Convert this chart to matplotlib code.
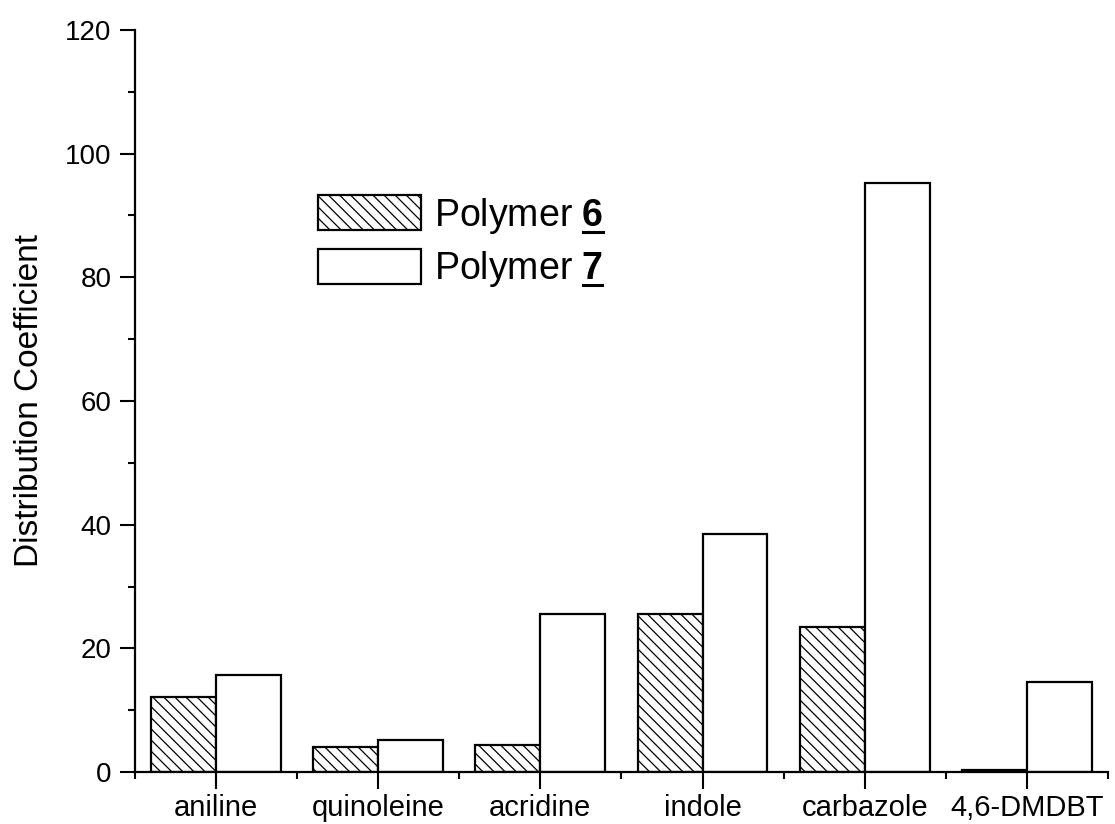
#!/usr/bin/env python3
"""Distribution coefficients of nitrogen compounds for polymers 6 and 7."""

import matplotlib

matplotlib.use("Agg")
import matplotlib.pyplot as plt
import numpy as np
from matplotlib.lines import Line2D
from matplotlib.ticker import MultipleLocator, FixedLocator


compounds = ["aniline", "quinoleine", "acridine", "indole", "carbazole", "4,6-DMDBT"]
polymer6 = [12.2, 4.0, 4.3, 25.6, 23.5, 0.4]
polymer7 = [15.7, 5.1, 25.5, 38.5, 95.3, 14.6]
y_ticks = [0, 20, 40, 60, 80, 100, 120]
legend_numbers = ["6", "7"]

plt.rcParams["font.family"] = ["Liberation Sans", "DejaVu Sans"]
plt.rcParams["mathtext.fontset"] = "custom"
plt.rcParams["mathtext.rm"] = "Liberation Sans"
plt.rcParams["mathtext.bf"] = "Liberation Sans:bold"
plt.rcParams["hatch.linewidth"] = 0.9

LEGEND_SIZE = 27

fig = plt.figure(figsize=(11.15, 8.24), dpi=100)
ax = fig.add_axes([0.121, 0.0631, 0.8727, 0.9005])
x = np.arange(1, len(compounds) + 1)
width = 0.4

b6 = ax.bar(x - width / 2, polymer6, width, color="white", edgecolor="black",
            hatch="\\\\\\", linewidth=1.6, label=rf"Polymer $\mathbf{{{legend_numbers[0]}}}$")
b7 = ax.bar(x + width / 2, polymer7, width, color="white", edgecolor="black",
            linewidth=1.6, label=rf"Polymer $\mathbf{{{legend_numbers[1]}}}$")

ax.set_xlim(0.5, 6.5)
ax.set_ylim(0, 120)
ax.set_xticks(x)
ax.set_xticklabels(compounds, fontsize=21)
ax.xaxis.set_minor_locator(FixedLocator(np.arange(0.5, 7.0, 1.0)))
ax.set_yticks(y_ticks)
ax.yaxis.set_minor_locator(MultipleLocator(10))
ax.tick_params(axis="y", labelsize=20)
ax.tick_params(axis="x", which="major", direction="out", length=12, width=1.5, pad=4)
ax.tick_params(axis="y", which="major", direction="out", length=11, width=1.5, pad=6)
ax.tick_params(which="minor", direction="out", length=5, width=1.5)

for side in ("top", "right"):
    ax.spines[side].set_visible(False)
for side in ("left", "bottom"):
    ax.spines[side].set_linewidth(1.6)

ax.set_ylabel("Distribution Coefficient", fontsize=24, labelpad=14)

leg = ax.legend(handles=[b6, b7], loc="upper left", bbox_to_anchor=(0.188, 0.777),
                frameon=False, fontsize=LEGEND_SIZE, handlelength=2.75, handleheight=1.05,
                handletextpad=0.35, labelspacing=0.35, borderpad=0, borderaxespad=0)

# underline the bold compound numbers in the legend
fig.canvas.draw()
renderer = fig.canvas.get_renderer()
probe = fig.text(0, 0, r"$\mathbf{6}$", fontsize=LEGEND_SIZE)
num_w = probe.get_window_extent(renderer).width
probe.remove()
for txt in leg.get_texts():
    bb = txt.get_window_extent(renderer)
    y_line = bb.y0 + 4
    x1 = bb.x1 - 1
    x0 = x1 - num_w + 2
    inv = fig.transFigure.inverted()
    (fx0, fy), (fx1, _) = inv.transform([(x0, y_line), (x1, y_line)])
    fig.add_artist(Line2D([fx0, fx1], [fy, fy], color="black", linewidth=2.2,
                          transform=fig.transFigure))

fig.savefig("out.png", dpi=100)
plt.close(fig)
